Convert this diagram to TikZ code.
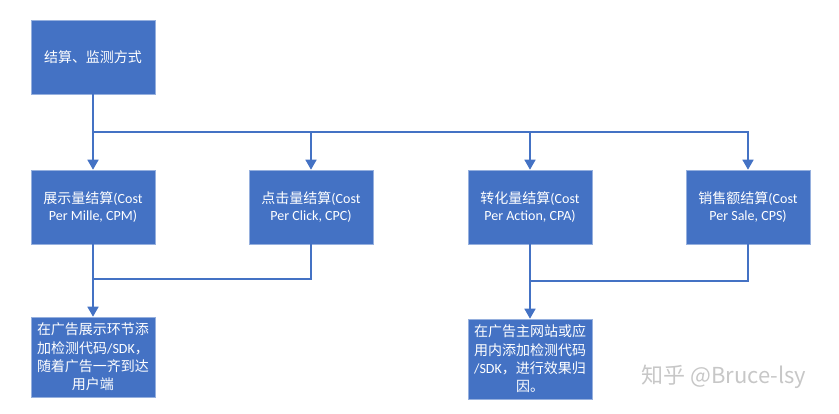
\documentclass[tikz,border=0pt]{standalone}
\usepackage{fontspec}
\setmainfont{Carlito}
\newfontfamily\cjk{Noto Sans CJK SC}
\usetikzlibrary{arrows.meta}
\definecolor{boxblue}{RGB}{68,114,196}
\definecolor{boxedge}{RGB}{150,176,222}

\begin{document}
\begin{tikzpicture}[x=1pt,y=-1pt,line width=1.6pt,draw=boxblue,
  every node/.style={rectangle,draw=boxedge,line width=0.6pt,fill=boxblue,text=white,
  minimum width=124pt,minimum height=74pt,inner sep=0pt,align=center,
  font=\fontsize{14}{17}\selectfont},
  arr/.style={-{Triangle[width=11pt,length=10pt]}}]
\useasboundingbox (0,0) rectangle (839,414);
\node (top) at (93,57)  {\cjk 结算、监测方式};
\node (cpm) at (93,207)  {{\cjk 展示量结算}(Cost\\Per Mille, CPM)};
\node (cpc) at (311,207) {{\cjk 点击量结算}(Cost\\Per Click, CPC)};
\node (cpa) at (530,207) {{\cjk 转化量结算}(Cost\\Per Action, CPA)};
\node (cps) at (748,207) {{\cjk 销售额结算}(Cost\\Per Sale, CPS)};
\node[minimum height=80pt,font=\fontsize{14}{18.4}\selectfont] (sdk1) at (93,357)
  {{\cjk 在广告展示环节添}\\{\cjk 加检测代码}/SDK{\cjk ，}\\{\cjk 随着广告一齐到达}\\{\cjk 用户端}};
\node[minimum height=80pt,font=\fontsize{14}{18.4}\selectfont] (sdk2) at (530,359)
  {{\cjk 在广告主网站或应}\\{\cjk 用内添加检测代码}\\/SDK{\cjk ，进行效果归}\\{\cjk 因。}};
\node[draw=none,fill=none,minimum width=0pt,minimum height=0pt,text=black!22,
  font=\cjk\fontsize{22}{24}\selectfont] (mark) at (724,377) {知乎 @Bruce-lsy};
\coordinate (bus) at (93,132);
\coordinate (join1) at (93,279);
\coordinate (join2) at (530,281);
\draw[line width=2pt] (top) -- (bus);
\draw[arr] (bus) -- (cpm);
\draw[arr] (bus) -| (cpc);
\draw[arr] (bus) -| (cpa);
\draw[arr] (bus) -| (cps);
\draw (cpm) -- (join1);
\draw (cpc) |- (join1);
\draw[arr] (join1) -- (sdk1);
\draw (cpa) -- (join2);
\draw (cps) |- (join2);
\draw[arr] (join2) -- (sdk2);
\end{tikzpicture}
\end{document}
